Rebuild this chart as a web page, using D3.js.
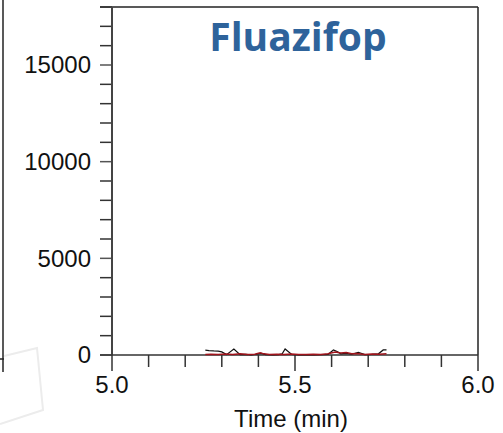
<!DOCTYPE html>
<html>
<head>
<meta charset="utf-8">
<script src="https://cdn.jsdelivr.net/npm/d3@7"></script>
<style>
  html, body { margin: 0; padding: 0; background: #fff; }
  svg { display: block; }
</style>
</head>
<body>
<svg id="chart" width="503" height="433"></svg>
<script>
// ---- data ----
const title = "Fluazifop";
const xLabel = "Time (min)";
const xDomain = [5.0, 6.0];
const yDomain = [0, 18000];
const xMajorTicks = [5.0, 5.5, 6.0];
const xTickLabels = ["5.0", "5.5", "6.0"];
const xMinorStep = 0.1;
const yMajorTicks = [0, 5000, 10000, 15000];
const yMinorStep = 1000;

// black trace (quantifier)
const blackTime = [5.255, 5.265, 5.278, 5.290, 5.300, 5.313, 5.333, 5.350, 5.365, 5.380, 5.395, 5.408, 5.420, 5.440, 5.455, 5.465, 5.473, 5.491, 5.510, 5.530, 5.550, 5.570, 5.590, 5.605, 5.615, 5.625, 5.640, 5.655, 5.673, 5.691, 5.710, 5.728, 5.741, 5.750];
const blackValue = [250, 230, 210, 200, 160, 20, 310, 20, 30, 10, 40, 80, 20, 10, 20, 60, 310, 30, 10, 20, 10, 20, 30, 260, 180, 60, 80, 40, 140, 20, 30, 60, 260, 260];
// red trace (qualifier)
const redTime = [5.255, 5.270, 5.290, 5.310, 5.330, 5.350, 5.370, 5.390, 5.405, 5.415, 5.430, 5.450, 5.470, 5.490, 5.510, 5.530, 5.550, 5.570, 5.590, 5.610, 5.625, 5.640, 5.655, 5.670, 5.690, 5.710, 5.730, 5.750];
const redValue = [30, 40, 20, 50, 30, 60, 20, 40, 120, 60, 30, 40, 20, 50, 30, 20, 40, 30, 60, 150, 100, 130, 60, 80, 30, 50, 40, 60];

// ---- layout ----
const svg = d3.select("#chart");
const plot = { left: 112, right: 478, top: 7, bottom: 355 };
const x = d3.scaleLinear().domain(xDomain).range([plot.left, plot.right]);
const y = d3.scaleLinear().domain(yDomain).range([plot.bottom, plot.top]);
const FONT = "'Liberation Sans', Arial, sans-serif";

// faint paper artifact at bottom-left
svg.append("path")
  .attr("d", "M4,356 L37,348 L43,410 L0,424")
  .attr("fill", "none").attr("stroke", "#ececec").attr("stroke-width", 2);

// partial neighbouring panel edge on the far left
svg.append("line").attr("x1", 3).attr("x2", 3).attr("y1", 0).attr("y2", 372)
  .attr("stroke", "#222").attr("stroke-width", 1.5);
svg.append("line").attr("x1", 0).attr("x2", 4).attr("y1", 359).attr("y2", 359)
  .attr("stroke", "#222").attr("stroke-width", 1.5);

// frame (top & right)
svg.append("line").attr("x1", 100).attr("x2", plot.right).attr("y1", plot.top).attr("y2", plot.top)
  .attr("stroke", "#222").attr("stroke-width", 1.5);
svg.append("line").attr("x1", plot.right).attr("x2", plot.right).attr("y1", plot.top).attr("y2", plot.bottom)
  .attr("stroke", "#222").attr("stroke-width", 1.5);

// y minor/major ticks
const yTicks = d3.range(yDomain[0], yDomain[1] + 1, yMinorStep);
svg.append("g").selectAll("line").data(yTicks).join("line")
  .attr("x1", plot.left - 12).attr("x2", plot.left)
  .attr("y1", d => y(d)).attr("y2", d => y(d))
  .attr("stroke", d => yMajorTicks.includes(d) ? "#555" : "#333")
  .attr("stroke-width", 1.5);
svg.append("g").selectAll("text").data(yMajorTicks).join("text")
  .attr("x", plot.left - 21).attr("y", d => y(d)).attr("dy", "0.35em")
  .attr("text-anchor", "end")
  .attr("font-family", FONT).attr("font-size", 24).attr("fill", "#111")
  .text(d => d);

// x ticks
const xTicks = d3.range(0, Math.round((xDomain[1] - xDomain[0]) / xMinorStep) + 1).map(i => xDomain[0] + i * xMinorStep);
svg.append("g").selectAll("line").data(xTicks).join("line")
  .attr("x1", d => x(d)).attr("x2", d => x(d))
  .attr("y1", plot.bottom)
  .attr("y2", d => plot.bottom + (xMajorTicks.some(m => Math.abs(m - d) < 1e-6) ? 16 : 12))
  .attr("stroke", "#333").attr("stroke-width", 1.5);
svg.append("g").selectAll("text").data(xMajorTicks).join("text")
  .attr("x", d => x(d)).attr("y", 393)
  .attr("text-anchor", "middle")
  .attr("font-family", FONT).attr("font-size", 24).attr("fill", "#111")
  .text((d, i) => xTickLabels[i]);

// axis lines
svg.append("line").attr("x1", plot.left).attr("x2", plot.left).attr("y1", plot.top).attr("y2", plot.bottom)
  .attr("stroke", "#444").attr("stroke-width", 2);
svg.append("line").attr("x1", plot.left - 12).attr("x2", plot.right).attr("y1", plot.bottom).attr("y2", plot.bottom)
  .attr("stroke", "#333").attr("stroke-width", 1.5);

// traces
const line = d3.line().x(d => x(d[0])).y(d => y(d[1]));
svg.append("path").datum(blackTime.map((t, i) => [t, blackValue[i]]))
  .attr("d", line).attr("fill", "none").attr("stroke", "#111").attr("stroke-width", 1.2);
svg.append("path").datum(redTime.map((t, i) => [t, redValue[i]]))
  .attr("d", line).attr("fill", "none").attr("stroke", "#a0141c").attr("stroke-width", 1.5);

// x label
svg.append("text").attr("x", 291).attr("y", 427).attr("text-anchor", "middle")
  .attr("font-family", FONT).attr("font-size", 24).attr("fill", "#111")
  .text(xLabel);

// title
svg.append("text").attr("x", 298).attr("y", 51).attr("text-anchor", "middle")
  .attr("font-family", "'Open Sans', 'Noto Sans', sans-serif").attr("font-weight", 700)
  .attr("font-size", 39).attr("fill", "#2e639b")
  .text(title);
</script>
</body>
</html>
